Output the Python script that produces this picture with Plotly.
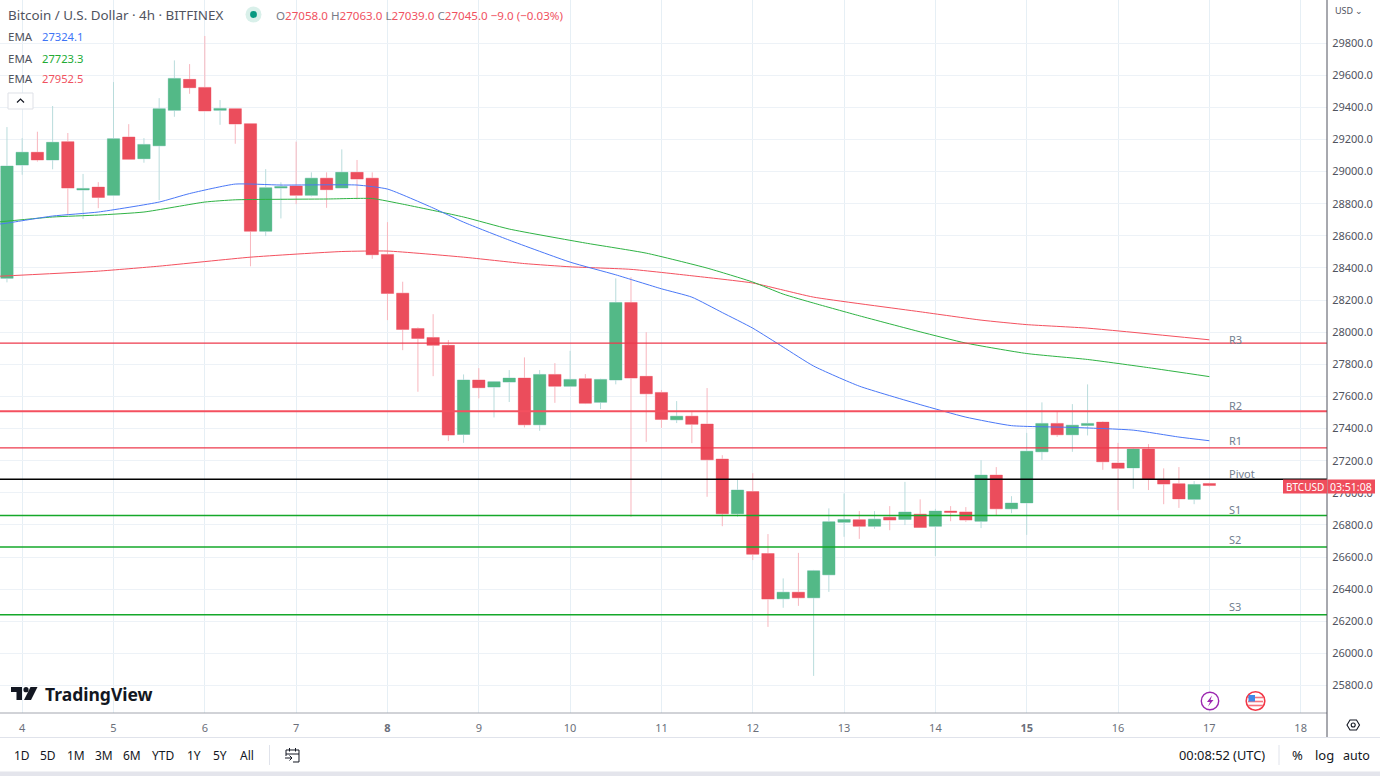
import pandas as pd
import plotly.graph_objects as go

# ---------- data (BTC/USD 4h candles) ----------
opens = [28335,29040,29120,29072,29186,28885,28903,28853,29215,29080,29160,29381,29574,29524,29381,29391,29298,
         28629,28897,28910,28852,28959,28897,28995,28959,28484,28243,28023,27967,27918,27363,27702,27658,27689,
         27714,27423,27737,27664,27710,27563,27702,28185,27725,27625,27454,27477,27428,27210,26869,27008,26622,
         26340,26381,26346,26489,26817,26832,26792,26848,26834,26867,26792,26886,26881,26823,27110,26900,26937,
         27255,27432,27361,27419,27440,27185,27155,27272,27083,27056,26959,27058]
highs = [29277,29208,29248,29408,29240,28985,28934,29557,29295,29208,29457,29692,29669,29844,29445,29393,29300,
         29015,28933,29186,28995,28995,29138,29072,28995,28685,28314,28030,28112,27951,27737,27776,27695,27764,
         27843,27764,27807,27884,27739,27710,28335,28343,28000,27640,27571,27510,27652,27234,27085,27122,26743,
         26467,26626,26520,26903,26996,26886,26886,26917,27068,26959,26900,26917,26911,27203,27160,26979,27373,
         27563,27504,27552,27675,27445,27311,27276,27303,27152,27160,27073,27063]
lows = [28310,28980,29062,29014,28729,28704,28772,28850,29072,29055,28822,29341,29484,29377,29291,29173,28410,
        28598,28708,28797,28845,28774,28897,28827,28457,28075,27888,27629,27726,27322,27311,27588,27469,27565,
        27407,27386,27560,27664,27552,27521,27675,26850,27317,27404,27434,27309,26975,26792,26850,26581,26165,
        26284,26296,25860,26383,26726,26713,26776,26767,26799,26784,26606,26823,26819,26780,26861,26873,26738,
        27205,27348,27255,27357,27143,26892,27025,27017,26929,26906,26929,27039]
closes = [29034,29120,29072,29182,28897,28895,28839,29204,29076,29169,29391,29580,29522,29377,29393,29296,28629,
          28899,28907,28852,28959,28887,28995,28953,28482,28241,28017,27961,27918,27359,27702,27654,27691,27714,
          27423,27737,27664,27706,27558,27706,28185,27714,27616,27457,27477,27426,27205,26869,27017,26618,26338,
          26381,26346,26514,26819,26834,26792,26836,26830,26880,26784,26886,26878,26830,27110,26900,26936,27259,
          27432,27361,27421,27432,27193,27152,27272,27083,27054,26962,27052,27045]
first_candle = "2023-05-03 20:00"

ema_blue_idx = [-2,-1,2,5,9,11,14,17,22,24,27,29,32,36,39,42,44,46,48,50,52,55,59,62,65,69,73,76,78]
ema_blue = [28667,28679,28723,28748,28810,28863,28922,28916,28916,28891,28773,28685,28573,28436,28357,28270,28218,
            28122,28025,27907,27789,27664,27549,27471,27418,27407,27390,27347,27324.1]
ema_green_idx = [-2,2,5,8,12,14,20,23,25,29,32,37,41,45,48,50,52,55,59,62,66,70,74,78]
ema_green = [28682,28717,28729,28748,28810,28824,28829,28832,28797,28717,28642,28555,28492,28399,28312,28237,28181,
             28102,28002,27932,27867,27830,27779,27723.3]
ema_red_idx = [-2,5,9,15,21,24,29,33,36,40,44,48,50,52,59,63,66,70,78]
ema_red = [28346,28380,28411,28467,28502,28505,28467,28427,28407,28391,28351,28306,28262,28218,28127,28075,28047,
           28025,27952.5]

pivot_names = ["R3","R2","R1","Pivot","S1","S2","S3"]
pivot_levels = [27932,27508,27280,27085,26858,26663,26241]
pivot_colors = ["#ee3a4c","#f4505f","#ee3a4c","#000000","#15a82a","#15a82a","#15a82a"]
pivot_widths = [1.3,2,1.3,1.5,1.5,1.5,1.5]
pivot_label_price = [27956,27541,27328,27122,26899,26708,26294]

day_ticks = list(range(4,19))
price_ticks = list(range(25800,30000,200))
range_buttons = ["1D","5D","1M","3M","6M","YTD","1Y","5Y","All"]
range_button_x = [22,48,76,104,132,163,194,220,247]

# ---------- helpers ----------
W,H = 1380,776
PW,PH = 1327,713
X = lambda p: p/PW
Y = lambda p: 1-p/PH
font = "Noto Sans"
times = pd.date_range(first_candle, periods=len(opens), freq="4h")
t0 = pd.Timestamp(first_candle)
at = lambda i: t0 + pd.Timedelta(hours=4*(i+1))
xrange_ = [pd.Timestamp("2023-05-04") + pd.Timedelta(hours=h) for h in (-5.83,342.92)]

fig = go.Figure()
for idx,vals,col in ((ema_red_idx,ema_red,"#f4515f"),(ema_green_idx,ema_green,"#2fb344"),(ema_blue_idx,ema_blue,"#4a78f7")):
    fig.add_trace(go.Scatter(x=[at(i) for i in idx],y=vals,mode="lines",line=dict(color=col,width=1,shape="spline",smoothing=0.5),hoverinfo="skip",showlegend=False))
fig.add_trace(go.Candlestick(x=times,open=opens,high=highs,low=lows,close=closes,showlegend=False,hoverinfo="skip",
    increasing=dict(fillcolor="#53b987",line=dict(color="#b9dcdc",width=1)),
    decreasing=dict(fillcolor="#eb4d5c",line=dict(color="#f8b6be",width=1))))
# solid bodies on top, so that very small bodies keep their full colour
fig.add_trace(go.Candlestick(x=times,open=opens,close=closes,
    high=[max(o,c) for o,c in zip(opens,closes)],low=[min(o,c) for o,c in zip(opens,closes)],
    showlegend=False,hoverinfo="skip",
    increasing=dict(fillcolor="#53b987",line=dict(color="#53b987",width=0)),
    decreasing=dict(fillcolor="#eb4d5c",line=dict(color="#eb4d5c",width=0))))

shapes=[]; ann=[]
def note(x,y,t,size=11,color="#50535e",anchor="left"):
    ann.append(dict(xref="paper",yref="paper",x=X(x),y=Y(y),text=t,showarrow=False,xanchor=anchor,yanchor="middle",
                    font=dict(size=size,color=color,family=font),align=anchor,borderpad=0,borderwidth=0))
def rect(x0,y0,x1,y1,fill,line=None,lw=0,layer="above"):
    shapes.append(dict(type="rect",xref="paper",yref="paper",x0=X(x0),x1=X(x1),y0=Y(y0),y1=Y(y1),fillcolor=fill,layer=layer,
                       line=dict(color=line or fill,width=lw)))
def seg(x0,y0,x1,y1,color,lw=1):
    shapes.append(dict(type="line",xref="paper",yref="paper",x0=X(x0),x1=X(x1),y0=Y(y0),y1=Y(y1),layer="above",line=dict(color=color,width=lw)))
def path(pts,fill=None,color=None,lw=0,close=True):
    d="M"+" L".join(f"{X(a):.5f},{Y(b):.5f}" for a,b in pts)+(" Z" if close else "")
    shapes.append(dict(type="path",xref="paper",yref="paper",path=d,layer="above",fillcolor=fill or "rgba(0,0,0,0)",
                       line=dict(color=color or "rgba(0,0,0,0)",width=lw)))
def circ(cx,cy,r,fill,line=None,lw=0):
    shapes.append(dict(type="circle",xref="paper",yref="paper",x0=X(cx-r),x1=X(cx+r),y0=Y(cy-r),y1=Y(cy+r),layer="above",
                       fillcolor=fill,line=dict(color=line or fill,width=lw)))

# pivot lines and labels
for n,l,c,w,lp in zip(pivot_names,pivot_levels,pivot_colors,pivot_widths,pivot_label_price):
    shapes.append(dict(type="line",xref="paper",yref="y",x0=0,x1=1,y0=l,y1=l,layer="above",line=dict(color=c,width=w)))
    ann.append(dict(xref="paper",yref="y",x=X(1226.5),y=lp,text=n,showarrow=False,xanchor="left",yanchor="middle",
                    font=dict(size=11,color="#73808f",family=font)))

# frame
rect(1328,0,W,H,"#ffffff",layer="below")
seg(0,713,PW,713,"#a3a6af",1)
seg(PW,0,PW,737,"#50535e",1)
seg(0,737.5,W,737.5,"#e0e3eb",1)
rect(0,771.5,W,776,"#e4e5ec")
seg(269.5,745,269.5,765,"#e0e3eb",1)
seg(1279,745,1279,765,"#e0e3eb",1)

# header
note(8,15,"Bitcoin / U.S. Dollar · 4h · BITFINEX",13.4,"#50535e")
circ(253.5,14.5,8,"#d9f0ea"); circ(253.5,14.5,3.4,"#089981")
up="#f0525f"; g="#787b86"
note(276,15.5,f'<span style="color:{g}">O</span>27058.0 <span style="color:{g}">H</span>27063.0 <span style="color:{g}">L</span>27039.0 <span style="color:{g}">C</span>27045.0 −9.0 (−0.03%)',11.6,up)
for y,val,c in ((36,"27324.1","#3e74f6"),(58,"27723.3","#22ab34"),(79,"27952.5","#f0525f")):
    note(8,y,"EMA",11.5,"#50535e"); note(42,y,val,11.2,c)
path([(8,93),(33,93),(33,109),(8,109)],fill="#ffffff",color="#dfe1e7",lw=1)
path([(17,102.5),(20.5,99),(24,102.5)],color="#131722",lw=1.2,close=False)

# logo
path([(11,687),(22,687),(22,700),(16.5,700),(16.5,692),(11,692)],fill="#131722")
circ(26,689.7,2.6,"#131722")
path([(30.5,687),(37.5,687),(31,700),(24,700)],fill="#131722")
note(44.5,693.8,"<b>TradingView</b>",17.5,"#131722")

# price axis extras
note(1335,11,"USD ⌄",9,"#50535e")
rect(1283,479.5,1327,493.5,"#ef4d5c"); rect(1327.5,479.5,1375,493.5,"#ef4d5c")
note(1305,486.5,"BTCUSD",10,"#ffffff","center"); note(1351,486.5,"03:51:08",10.5,"#ffffff","center")

# event icons
circ(1210,701,8.7,"#ffffff","#9c27b0",1.4)
path([(1212,695.5),(1207,702),(1210,702),(1208,706.5),(1213.5,700),(1210.5,700)],fill="#9c27b0")
circ(1255.5,701,9.3,"#ffffff","#f23645",1.6)
for yy in (697.5,701.5,705.5):
    seg(1248,yy,1263,yy,"#f6737e",1.6)
rect(1248.5,695,1255,701.5,"#3f8ae8")

# gear
path([(1347,725),(1350,720),(1356.5,720),(1359.5,725),(1356.5,730),(1350,730)],color="#131722",lw=1.1)
circ(1353.2,725,2,"#ffffff","#131722",1.1)

# calendar icon
path([(286,750),(299,750),(299,762),(293,762)],color="#131722",lw=1,close=False)
seg(286,750,286,756,"#131722",1); seg(286,754,299,754,"#131722",1)
seg(289.5,748,289.5,751.5,"#131722",1); seg(295.5,748,295.5,751.5,"#131722",1)
seg(285,758,292,758,"#131722",1); path([(289.5,755.5),(292,758),(289.5,760.5)],color="#131722",lw=1,close=False)

# bottom toolbar
for b,x in zip(range_buttons,range_button_x):
    note(x,755,b,12,"#131722","center")
note(1179,755,"00:08:52 (UTC)",12.8,"#131722")
note(1297,755,"%",13,"#131722","center"); note(1324,755,"log",13,"#131722","center"); note(1357,755,"auto",12.5,"#131722","center")

fig.update_layout(
    width=W,height=H,margin=dict(l=0,r=W-PW,t=0,b=H-PH),autosize=False,
    paper_bgcolor="#ffffff",plot_bgcolor="#ffffff",showlegend=False,boxgap=0.1,boxgroupgap=0.1,boxmode="overlay",
    font=dict(family=font,size=11,color="#50535e"),shapes=shapes,annotations=ann,
    xaxis=dict(type="date",range=xrange_,rangeslider=dict(visible=False),showline=False,zeroline=False,
               tickmode="array",tickvals=[pd.Timestamp(2023,5,d) for d in day_ticks],
               ticktext=[f"<b>{d}</b>" if d in (8,15) else str(d) for d in day_ticks],
               showgrid=True,gridcolor="#e6eff5",gridwidth=1,ticks="outside",ticklen=5,tickcolor="rgba(0,0,0,0)",
               tickfont=dict(size=11,color="#6b6f7a",family=font)),
    yaxis=dict(side="right",range=[25629,30068],tickmode="array",tickvals=price_ticks,
               ticktext=[f"{p:.1f}" for p in price_ticks],showline=False,zeroline=False,
               showgrid=True,gridcolor="#edf2f7",gridwidth=1,ticks="outside",ticklen=2,tickcolor="rgba(0,0,0,0)",
               tickfont=dict(size=11,color="#50535e",family=font)),
)
fig.write_html("out.html",config=dict(displayModeBar=False),
    post_script="document.body.style.margin='0';document.documentElement.style.overflow='hidden';")
